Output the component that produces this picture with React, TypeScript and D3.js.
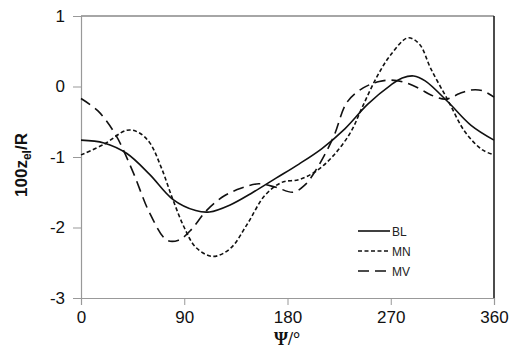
import { useEffect, useRef } from "react";
import * as d3 from "d3";

type Pt = [number, number];

// angle (deg), value
const blData: Pt[] = [
  [0, -0.76], [20, -0.8], [40, -0.95], [60, -1.25], [80, -1.6], [100, -1.76],
  [112, -1.78], [130, -1.68], [150, -1.5], [170, -1.3], [190, -1.1], [210, -0.88],
  [230, -0.6], [250, -0.25], [270, 0.02], [280, 0.12], [290, 0.15], [300, 0.08],
  [320, -0.22], [340, -0.55], [360, -0.76],
];
const mnData: Pt[] = [
  [0, -0.97], [20, -0.82], [40, -0.62], [50, -0.65], [60, -0.8], [70, -1.15],
  [80, -1.6], [90, -2.0], [100, -2.28], [115, -2.41], [130, -2.3], [145, -1.95],
  [160, -1.55], [175, -1.36], [190, -1.32], [205, -1.2], [220, -0.98], [235, -0.65],
  [245, -0.3], [258, 0.14], [270, 0.45], [285, 0.69], [295, 0.6], [305, 0.25],
  [320, -0.2], [335, -0.65], [350, -0.9], [360, -0.97],
];
const mvData: Pt[] = [
  [0, -0.17], [15, -0.35], [30, -0.68], [45, -1.2], [60, -1.8], [75, -2.18],
  [85, -2.18], [95, -2.05], [110, -1.75], [125, -1.55], [140, -1.44], [155, -1.38],
  [170, -1.43], [185, -1.5], [195, -1.4], [205, -1.18], [220, -0.72], [232, -0.22],
  [246, -0.02], [260, 0.07], [270, 0.09], [282, 0.06], [295, -0.03], [305, -0.12],
  [318, -0.18], [330, -0.1], [340, -0.05], [350, -0.06], [360, -0.15],
];
const seriesNames = ["BL", "MN", "MV"];
const xTicks = [0, 90, 180, 270, 360];
const yTicks = [1, 0, -1, -2, -3];

const App = () => {
  const svgRef = useRef<SVGSVGElement>(null);

  useEffect(() => {
    const svg = d3.select(svgRef.current);
    svg.selectAll("*").remove();

    const m = { l: 81, r: 494, t: 16, b: 298 };
    const x = d3.scaleLinear().domain([0, 360]).range([m.l, m.r]);
    const y = d3.scaleLinear().domain([-3, 1]).range([m.b, m.t]);
    const font = "Liberation Sans, Arial, sans-serif";

    // frame: gray top, dark right
    svg.append("line").attr("x1", m.l).attr("x2", m.r).attr("y1", m.t).attr("y2", m.t)
      .attr("stroke", "#888").attr("stroke-width", 1.5);
    svg.append("line").attr("x1", m.r).attr("x2", m.r).attr("y1", m.t).attr("y2", m.b)
      .attr("stroke", "#111").attr("stroke-width", 1.5);

    // axes
    const xAxis = d3.axisBottom(x).tickValues(xTicks).tickSize(7).tickPadding(6)
      .tickFormat((d) => String(d));
    const gx = svg.append("g").attr("transform", `translate(0,${m.b})`).call(xAxis);
    const yAxis = d3.axisLeft(y).tickValues(yTicks).tickSize(8).tickPadding(8)
      .tickFormat((d) => String(d));
    const gy = svg.append("g").attr("transform", `translate(${m.l},0)`).call(yAxis);
    [gx, gy].forEach((g) => {
      g.select(".domain").attr("stroke", "#999").attr("stroke-width", 1.2);
      g.selectAll(".tick line").attr("stroke", "#999");
      g.selectAll(".tick text").attr("fill", "#111").style("font-family", font)
        .style("font-size", "17px");
    });

    // lines
    const line = d3.line<Pt>().x((d) => x(d[0])).y((d) => y(d[1]))
      .curve(d3.curveCatmullRom.alpha(0.5));
    const styles = [
      { data: blData, dash: null, w: 1.6 },
      { data: mnData, dash: "4,2.5", w: 1.6 },
      { data: mvData, dash: "11,6", w: 1.6 },
    ];
    styles.forEach((s) => {
      svg.append("path").attr("d", line(s.data)).attr("fill", "none")
        .attr("stroke", "#111").attr("stroke-width", s.w)
        .attr("stroke-dasharray", s.dash);
    });

    // legend
    seriesNames.forEach((n, i) => {
      const ly = 231 + i * 20;
      svg.append("line").attr("x1", 358).attr("x2", 390).attr("y1", ly).attr("y2", ly)
        .attr("stroke", "#111").attr("stroke-width", 1.6)
        .attr("stroke-dasharray", styles[i].dash);
      svg.append("text").attr("x", 392).attr("y", ly + 4.5).text(n)
        .style("font-family", font).style("font-size", "12px").attr("fill", "#222");
    });

    // axis titles
    const yl = svg.append("text").attr("transform", "translate(27,165) rotate(-90)")
      .attr("text-anchor", "middle").style("font-family", font)
      .style("font-size", "17px").style("font-weight", "bold").attr("fill", "#111");
    yl.append("tspan").text("100z");
    yl.append("tspan").attr("dy", 4).style("font-size", "12px").text("el");
    yl.append("tspan").attr("dy", -4).text("/R");

    svg.append("text").attr("x", 287).attr("y", 345).attr("text-anchor", "middle")
      .style("font-family", "Liberation Serif, Times New Roman, serif")
      .style("font-size", "18px").style("font-weight", "bold").attr("fill", "#111")
      .text("Ψ/°");
  }, []);

  return (
    <svg ref={svgRef} width={512} height={356}
      style={{ position: "absolute", left: 0, top: 0, background: "#fff" }} />
  );
};

export default App;
